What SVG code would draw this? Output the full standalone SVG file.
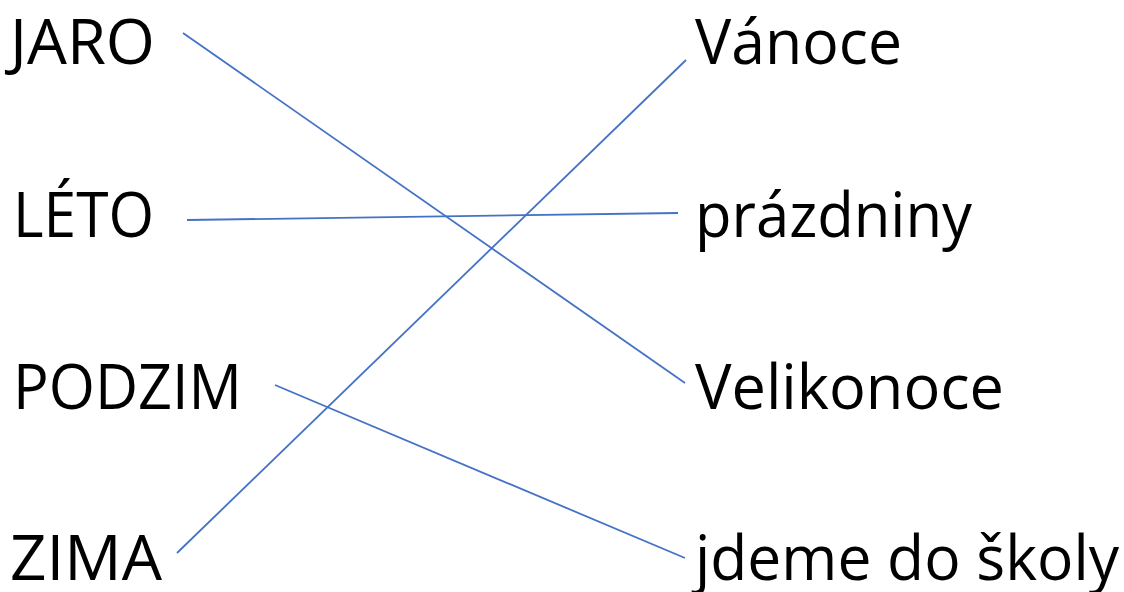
<svg xmlns="http://www.w3.org/2000/svg" width="1124" height="592" viewBox="0 0 1124 592">
<style>
text{font-family:"Open Sans","Liberation Sans",sans-serif;font-size:62px;fill:#000}
.c line{stroke:#4472C4;stroke-width:1.8;fill:none}
</style>
<rect width="1124" height="592" fill="#fff"/>
<g id="n-jaro"><text x="10" y="64" textLength="145" lengthAdjust="spacingAndGlyphs">JARO</text></g>
<g id="n-leto"><text x="13" y="237" textLength="141" lengthAdjust="spacingAndGlyphs">LÉTO</text></g>
<g id="n-podzim"><text x="13" y="409" textLength="229" lengthAdjust="spacingAndGlyphs">PODZIM</text></g>
<g id="n-zima"><text x="10" y="580" textLength="152" lengthAdjust="spacingAndGlyphs">ZIMA</text></g>
<g id="n-vanoce"><text x="695" y="64" textLength="207" lengthAdjust="spacingAndGlyphs">Vánoce</text></g>
<g id="n-prazdniny"><text x="695" y="237" textLength="277" lengthAdjust="spacingAndGlyphs">prázdniny</text></g>
<g id="n-velikonoce"><text x="695" y="409" textLength="309" lengthAdjust="spacingAndGlyphs">Velikonoce</text></g>
<g id="n-skola"><text x="695" y="580" textLength="424" lengthAdjust="spacingAndGlyphs">jdeme do školy</text></g>
<g id="connectors" class="c">
<line x1="183" y1="33" x2="685" y2="383"/>
<line x1="187" y1="220" x2="678" y2="213"/>
<line x1="275" y1="385" x2="685" y2="558"/>
<line x1="177" y1="553" x2="686" y2="60"/>
</g>
</svg>
